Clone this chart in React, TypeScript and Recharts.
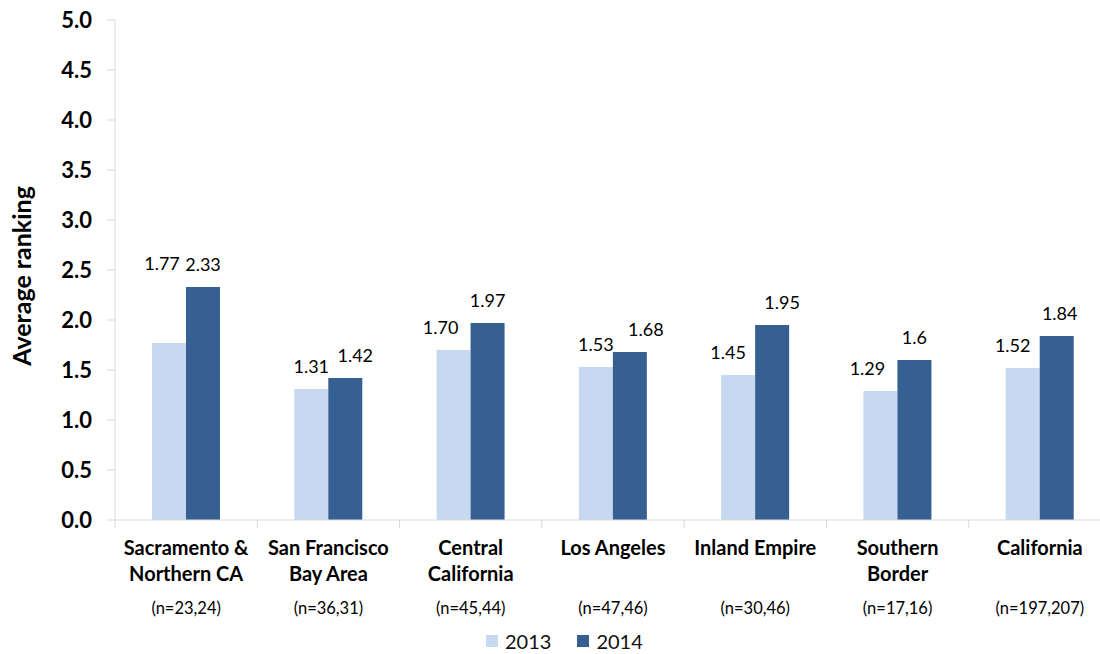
import * as React from 'react';
import { BarChart, Bar, XAxis, YAxis, LabelList } from 'recharts';

const regionLines = [
  ['Sacramento &', 'Northern CA'],
  ['San Francisco', 'Bay Area'],
  ['Central', 'California'],
  ['Los Angeles'],
  ['Inland Empire'],
  ['Southern', 'Border'],
  ['California'],
];
const sampleSizes = [
  '(n=23,24)',
  '(n=36,31)',
  '(n=45,44)',
  '(n=47,46)',
  '(n=30,46)',
  '(n=17,16)',
  '(n=197,207)',
];
const values2013 = [1.77, 1.31, 1.7, 1.53, 1.45, 1.29, 1.52];
const values2014 = [2.33, 1.42, 1.97, 1.68, 1.95, 1.6, 1.84];
const yTicks = [0, 0.5, 1, 1.5, 2, 2.5, 3, 3.5, 4, 4.5, 5];

const data = regionLines.map((lines, i) => ({
  region: lines.join(' '),
  y2013: values2013[i],
  y2014: values2014[i],
}));

const FONT = "Lato, 'Liberation Sans', sans-serif";
const LIGHT = '#c6d9f0';
const DARK = '#376092';
const AXIS = '#d9d9d9';

const CHART_W = 1120;
const CHART_H = 654;
const MARGIN = { top: 20, right: 9, left: 0, bottom: 0 };
const Y_W = 115;
const BAND = (CHART_W - MARGIN.left - MARGIN.right - Y_W) / regionLines.length;

// hand-placed label nudges, as in the original
const nudge2013 = [[-7, -57], [0, 0], [-13, 0], [0, 0], [-10, 0], [-13, 0], [-10, 0]];
const nudge2014 = [[0, 0], [10, 0], [0, 0], [16, 0], [10, 0], [0, 0], [3, 0]];

function makeLabel(nudges: number[][], fmt: (v: number) => string) {
  return (props: any) => {
    const { x, y, width, value, index } = props;
    const [dx, dy] = nudges[index] || [0, 0];
    return (
      <text
        x={x + width / 2 + dx}
        y={y - 16 + dy}
        textAnchor="middle"
        fontFamily={FONT}
        fontSize={18}
        fill="#000"
      >
        {fmt(value)}
      </text>
    );
  };
}

function RegionTick(props: any) {
  const { x, y, payload } = props;
  const i = payload.index;
  const lines = regionLines[i];
  return (
    <g>
      <line x1={x - BAND / 2} x2={x - BAND / 2} y1={y} y2={y + 8} stroke={AXIS} />
      {i === regionLines.length - 1 && (
        <line x1={x + BAND / 2} x2={x + BAND / 2} y1={y} y2={y + 8} stroke={AXIS} />
      )}
      {lines.map((t, k) => (
        <text
          key={k}
          x={x}
          y={y + 35 + k * 26}
          textAnchor="middle"
          fontFamily={FONT}
          fontWeight="bold"
          fontSize={20}
          fill="#000"
        >
          {t}
        </text>
      ))}
      <text
        x={x}
        y={y + 94}
        textAnchor="middle"
        fontFamily={FONT}
        fontSize={16.5}
        fill="#000"
      >
        {sampleSizes[i]}
      </text>
    </g>
  );
}

function LegendSwatch({ color, text }: { color: string; text: string }) {
  return (
    <div style={{ display: 'flex', alignItems: 'center', marginRight: 26 }}>
      <div style={{ width: 12, height: 12, background: color, marginRight: 7 }} />
      <span style={{ fontFamily: FONT, fontSize: 20, color: '#111' }}>{text}</span>
    </div>
  );
}

export default function App() {
  return (
    <div
      style={{
        position: 'absolute',
        left: 0,
        top: 0,
        width: 1100,
        height: CHART_H,
        overflow: 'hidden',
        background: '#fff',
      }}
    >
      <BarChart
        width={CHART_W}
        height={CHART_H}
        data={data}
        margin={MARGIN}
        barSize={34}
        barGap={0}
      >
        <XAxis
          dataKey="region"
          height={CHART_H - MARGIN.top - 500}
          stroke={AXIS}
          tickLine={false}
          tickSize={0}
          tickMargin={0}
          interval={0}
          tick={<RegionTick />}
        />
        <YAxis
          width={Y_W}
          domain={[0, 5]}
          ticks={yTicks}
          interval={0}
          stroke={AXIS}
          tickSize={8}
          tickMargin={15}
          tickFormatter={(v: number) => v.toFixed(1)}
          tick={{ fill: '#000', fontFamily: FONT, fontWeight: 'bold', fontSize: 22 }}
          label={{
            content: () => (
              <text
                transform="translate(31,276) rotate(-90)"
                textAnchor="middle"
                fontFamily={FONT}
                fontWeight="bold"
                fontSize={25}
                fill="#000"
              >
                Average ranking
              </text>
            ),
          }}
        />
        <Bar dataKey="y2013" fill={LIGHT} isAnimationActive={false}>
          <LabelList
            dataKey="y2013"
            content={makeLabel(nudge2013, (v) => v.toFixed(2))}
          />
        </Bar>
        <Bar dataKey="y2014" fill={DARK} isAnimationActive={false}>
          <LabelList dataKey="y2014" content={makeLabel(nudge2014, (v) => String(v))} />
        </Bar>
      </BarChart>
      <div
        style={{
          position: 'absolute',
          top: 629,
          left: 486,
          display: 'flex',
          alignItems: 'center',
        }}
      >
        <LegendSwatch color={LIGHT} text="2013" />
        <LegendSwatch color={DARK} text="2014" />
      </div>
    </div>
  );
}
